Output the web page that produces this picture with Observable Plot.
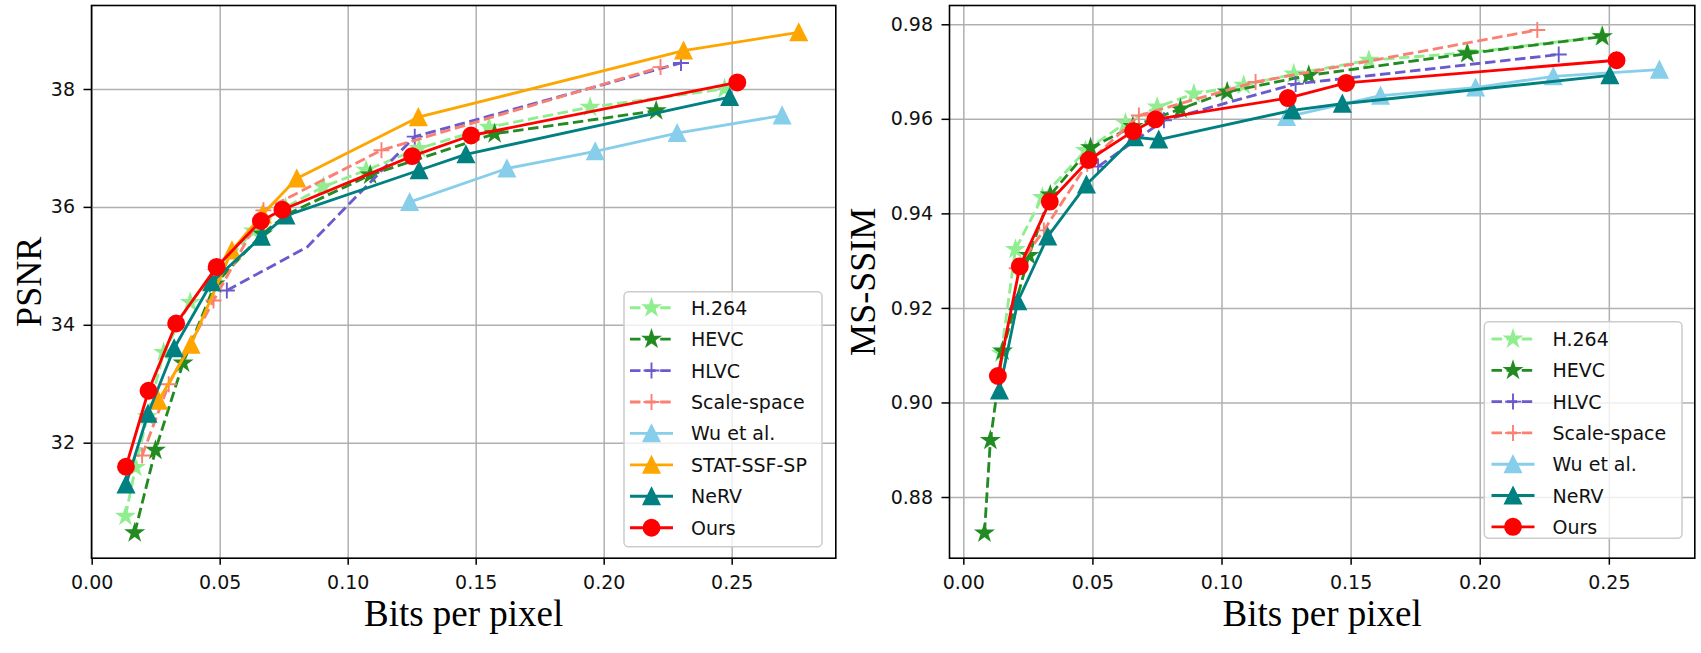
<!DOCTYPE html>
<html><head><meta charset="utf-8">
<script src="https://cdn.jsdelivr.net/npm/d3@7"></script>
<script src="https://cdn.jsdelivr.net/npm/@observablehq/plot@0.6"></script>
<style>
html,body{margin:0;padding:0;background:#fff;}
#wrap{position:relative;width:1701px;height:653px;overflow:hidden;background:#fff;}
#wrap > .p{position:absolute;top:0;}
#legend{position:absolute;left:0;top:0;pointer-events:none;}
</style></head><body><div id="wrap"></div>
<script>
// ---------- data ----------
const methods = ["H.264","HEVC","HLVC","Scale-space","Wu et al.","STAT-SSF-SP","NeRV","Ours"];
const bppTicks = [0, 0.05, 0.10, 0.15, 0.20, 0.25];
const psnrTicks = [32, 34, 36, 38];
const ssimTicks = [0.88, 0.90, 0.92, 0.94, 0.96, 0.98];

// PSNR vs bpp  ([bpp, psnr, marker?])
const psnrH264 = [[0.013,30.76],[0.0169,31.59],[0.0215,32.45],[0.0279,33.54],[0.0383,34.39],[0.0485,34.9],[0.063,35.6],[0.0755,36.0],[0.0903,36.35],[0.107,36.63],[0.1277,37.0],[0.155,37.36],[0.1945,37.7],[0.247,38.01]];
const psnrHEVC = [[0.0166,30.48],[0.0247,31.88],[0.0355,33.36],[0.048,34.7],[0.0665,35.55],[0.076,35.88],[0.1086,36.55],[0.1572,37.25],[0.2203,37.64]];
const psnrHLVC = [[0.0526,34.59],[0.084,35.33,0],[0.126,37.2],[0.230,38.45]];
const psnrScale = [[0.0195,31.79],[0.0299,33.0],[0.0474,34.42],[0.0669,35.95],[0.113,36.97],[0.222,38.38]];
const psnrWu = [[0.124,36.09],[0.162,36.66],[0.1965,36.95],[0.2285,37.26],[0.2695,37.56]];
const psnrSTAT = [[0.0259,32.72],[0.0386,33.67],[0.0546,35.27],[0.0665,35.88],[0.0799,36.49],[0.1274,37.53],[0.231,38.66],[0.276,38.97]];
const psnrNeRV = [[0.0132,31.3],[0.0218,32.5],[0.032,33.61],[0.0467,34.73],[0.0661,35.5],[0.0757,35.86],[0.1277,36.63],[0.146,36.9],[0.249,37.87]];
const psnrOurs = [[0.0132,31.6],[0.022,32.89],[0.0328,34.03],[0.0486,34.99],[0.0659,35.77],[0.0743,35.96],[0.125,36.87],[0.148,37.22],[0.252,38.12]];

// MS-SSIM vs bpp
const ssimH264 = [[0.0145,0.9105],[0.0200,0.9325],[0.0304,0.9435],[0.0471,0.9534],[0.0626,0.9592],[0.0749,0.9626],[0.0891,0.9654],[0.1084,0.9672],[0.1278,0.9696],[0.1569,0.9725],[0.195,0.9741],[0.247,0.9775]];
const ssimHEVC = [[0.008,0.8725],[0.0103,0.8921],[0.0150,0.9110],[0.0252,0.9312],[0.0335,0.9440],[0.0491,0.9540],[0.0655,0.9585],[0.0839,0.9622],[0.102,0.9658],[0.1336,0.9693],[0.195,0.9739],[0.2473,0.9775]];
const ssimHLVC = [[0.052,0.9500],[0.0775,0.9598],[0.1285,0.9675],[0.2304,0.9737]];
const ssimScale = [[0.0205,0.9285],[0.031,0.9365],[0.0478,0.9506],[0.0678,0.9608],[0.113,0.9679],[0.2221,0.9789]];
const ssimWu = [[0.125,0.9605],[0.1614,0.9650],[0.1982,0.9667],[0.2283,0.9691],[0.2694,0.9705]];
const ssimNeRV = [[0.0138,0.9026],[0.0209,0.9215],[0.0325,0.9352],[0.0475,0.9462],[0.0661,0.9562],[0.0755,0.9557],[0.1272,0.9619],[0.1466,0.9633],[0.2502,0.9693]];
const ssimOurs = [[0.0132,0.9057],[0.0217,0.9289],[0.0333,0.9426],[0.0484,0.9514],[0.0656,0.9575],[0.0742,0.9600],[0.1255,0.9645],[0.1481,0.9677],[0.2528,0.9725]];

// ---------- styles ----------
const symTriangle = {draw(c, s){const r=Math.sqrt(s/Math.PI); c.moveTo(0,-r); c.lineTo(r,r); c.lineTo(-r,r); c.closePath();}};
const symStar = {draw(c, s){const R=Math.sqrt(s/Math.PI), r=R*0.381966;
  for(let i=0;i<10;i++){const a=-Math.PI/2+i*Math.PI/5, rr=i%2?r:R; const x=rr*Math.cos(a), y=rr*Math.sin(a); if(i) c.lineTo(x,y); else c.moveTo(x,y);} c.closePath();}};
const symPlus = {draw(c, s){const r=Math.sqrt(s/Math.PI); c.moveTo(-r,0); c.lineTo(r,0); c.moveTo(0,-r); c.lineTo(0,r);}};
const symCircle = {draw(c, s){const r=Math.sqrt(s/Math.PI); c.moveTo(r,0); c.arc(0,0,r,0,2*Math.PI);}};

const style = {
  "H.264":       {color:"#90EE90", dash:true,  sym:symStar,     filled:true},
  "HEVC":        {color:"#228B22", dash:true,  sym:symStar,     filled:true},
  "HLVC":        {color:"#6A5ACD", dash:true,  sym:symPlus,     filled:false},
  "Scale-space": {color:"#FA8072", dash:true,  sym:symPlus,     filled:false},
  "Wu et al.":   {color:"#87CEEB", dash:false, sym:symTriangle, filled:true},
  "STAT-SSF-SP": {color:"#FFA500", dash:false, sym:symTriangle, filled:true},
  "NeRV":        {color:"#008080", dash:false, sym:symTriangle, filled:true},
  "Ours":        {color:"#FF0000", dash:false, sym:symCircle,   filled:true}
};
const LW = 2.85, MEW = 1.9, MR = 8, DASH = "10.5,4.6";
const tickFont = "DejaVu Sans";
const labelFont = "Liberation Serif";

function seriesMarks(name, pts){
  const st = style[name];
  return [
    Plot.line(pts, {x: d=>d[0], y: d=>d[1], stroke: st.color, strokeWidth: LW,
      strokeDasharray: st.dash ? DASH : null, strokeLinecap: "butt", strokeLinejoin: "round"}),
    Plot.dot(pts.filter(d => d[2] !== 0), {x: d=>d[0], y: d=>d[1], r: MR, symbol: st.sym,
      fill: st.filled ? st.color : "none", stroke: st.color, strokeWidth: MEW, strokeLinejoin: "miter"})
  ];
}

function panel(cfg){
  const marks = [
    Plot.gridX(bppTicks, {stroke:"#b0b0b0", strokeOpacity:1, strokeWidth:1.5}),
    Plot.gridY(cfg.yTicks, {stroke:"#b0b0b0", strokeOpacity:1, strokeWidth:1.5})
  ];
  cfg.series.forEach(([name, pts]) => marks.push(...seriesMarks(name, pts)));
  marks.push(
    Plot.frame({stroke:"black", strokeWidth:1.6}),
    Plot.axisX(bppTicks, {tickFormat: d3.format(".2f"), tickSize: 7, tickPadding: 10.5, strokeWidth: 1.5,
      fontSize: 19, fontFamily: tickFont, fill: "#111", label: null}),
    Plot.axisY(cfg.yTicks, {tickFormat: cfg.yFmt, tickSize: 7.5, tickPadding: 9, strokeWidth: 1.5,
      fontSize: 19, fontFamily: tickFont, fill: "#111", label: null}),
    Plot.text(["Bits per pixel"], {frameAnchor: "bottom", text: d=>d, dy: 55.5, fontFamily: labelFont,
      fontSize: 37, textAnchor: "middle", lineAnchor: "middle", fill: "black"}),
    Plot.text([cfg.ylabel], {frameAnchor: "left", text: d=>d, rotate: -90, dx: cfg.ylabelDx, fontFamily: labelFont,
      fontSize: 36, textAnchor: "middle", lineAnchor: "middle", fill: "black"})
  );
  return Plot.plot({
    width: cfg.width, height: 653,
    marginLeft: cfg.ml, marginRight: cfg.mr, marginTop: 5, marginBottom: 95.3,
    x: {domain: cfg.xDomain}, y: {domain: cfg.yDomain},
    style: {background: "transparent", overflow: "visible", fontFamily: tickFont},
    marks
  });
}

const wrap = document.getElementById("wrap");

const left = panel({
  width: 845, ml: 91, mr: 845 - 835.3,
  xDomain: [-0.00027, 0.29047], yDomain: [30.049, 39.425],
  yTicks: psnrTicks, yFmt: d3.format("d"), ylabel: "PSNR", ylabelDx: -62,
  series: [["H.264", psnrH264], ["HEVC", psnrHEVC], ["HLVC", psnrHLVC], ["Scale-space", psnrScale],
           ["Wu et al.", psnrWu], ["STAT-SSF-SP", psnrSTAT], ["NeRV", psnrNeRV], ["Ours", psnrOurs]]
});
left.classList.add("p"); left.style.left = "0px";
wrap.appendChild(left);

const right = panel({
  width: 856, ml: 949 - 845, mr: 856 - (1694.3 - 845),
  xDomain: [-0.00554, 0.2831], yDomain: [0.86716, 0.98408],
  yTicks: ssimTicks, yFmt: d3.format(".2f"), ylabel: "MS-SSIM", ylabelDx: -86.5,
  series: [["H.264", ssimH264], ["HEVC", ssimHEVC], ["HLVC", ssimHLVC], ["Scale-space", ssimScale],
           ["Wu et al.", ssimWu], ["NeRV", ssimNeRV], ["Ours", ssimOurs]]
});
right.classList.add("p"); right.style.left = "845px";
wrap.appendChild(right);

// ---------- legends ----------
const lsvg = d3.select(wrap).append("svg").attr("id","legend").attr("width",1701).attr("height",653);
function legend(names, box){
  const g = lsvg.append("g");
  g.append("rect").attr("x", box.x0).attr("y", box.y0).attr("width", box.x1 - box.x0).attr("height", box.y1 - box.y0)
    .attr("rx", 4.5).attr("fill", "white").attr("fill-opacity", 0.8).attr("stroke", "#cccccc").attr("stroke-width", 1.5);
  names.forEach((name, i) => {
    const st = style[name], y = box.row0 + i * box.step, hx = box.hx;
    g.append("line").attr("x1", hx).attr("x2", hx + 43).attr("y1", y).attr("y2", y)
      .attr("stroke", st.color).attr("stroke-width", LW).attr("stroke-dasharray", st.dash ? DASH : null);
    g.append("path").attr("transform", `translate(${hx + 21.5},${y})`)
      .attr("d", d3.symbol(st.sym, MR * MR * Math.PI)())
      .attr("fill", st.filled ? st.color : "none").attr("stroke", st.color).attr("stroke-width", MEW);
    g.append("text").attr("x", hx + 61).attr("y", y).attr("dy", "0.37em")
      .attr("font-family", tickFont).attr("font-size", 19).attr("fill", "#111").text(name);
  });
}
legend(methods, {x0: 624, x1: 822, y0: 291.7, y1: 546.7, row0: 307.7, step: 31.43, hx: 630});
legend(methods.filter(m => m !== "STAT-SSF-SP"), {x0: 1484.3, x1: 1682, y0: 321.7, y1: 538.3, row0: 339, step: 31.3, hx: 1491.5});
</script></body></html>
